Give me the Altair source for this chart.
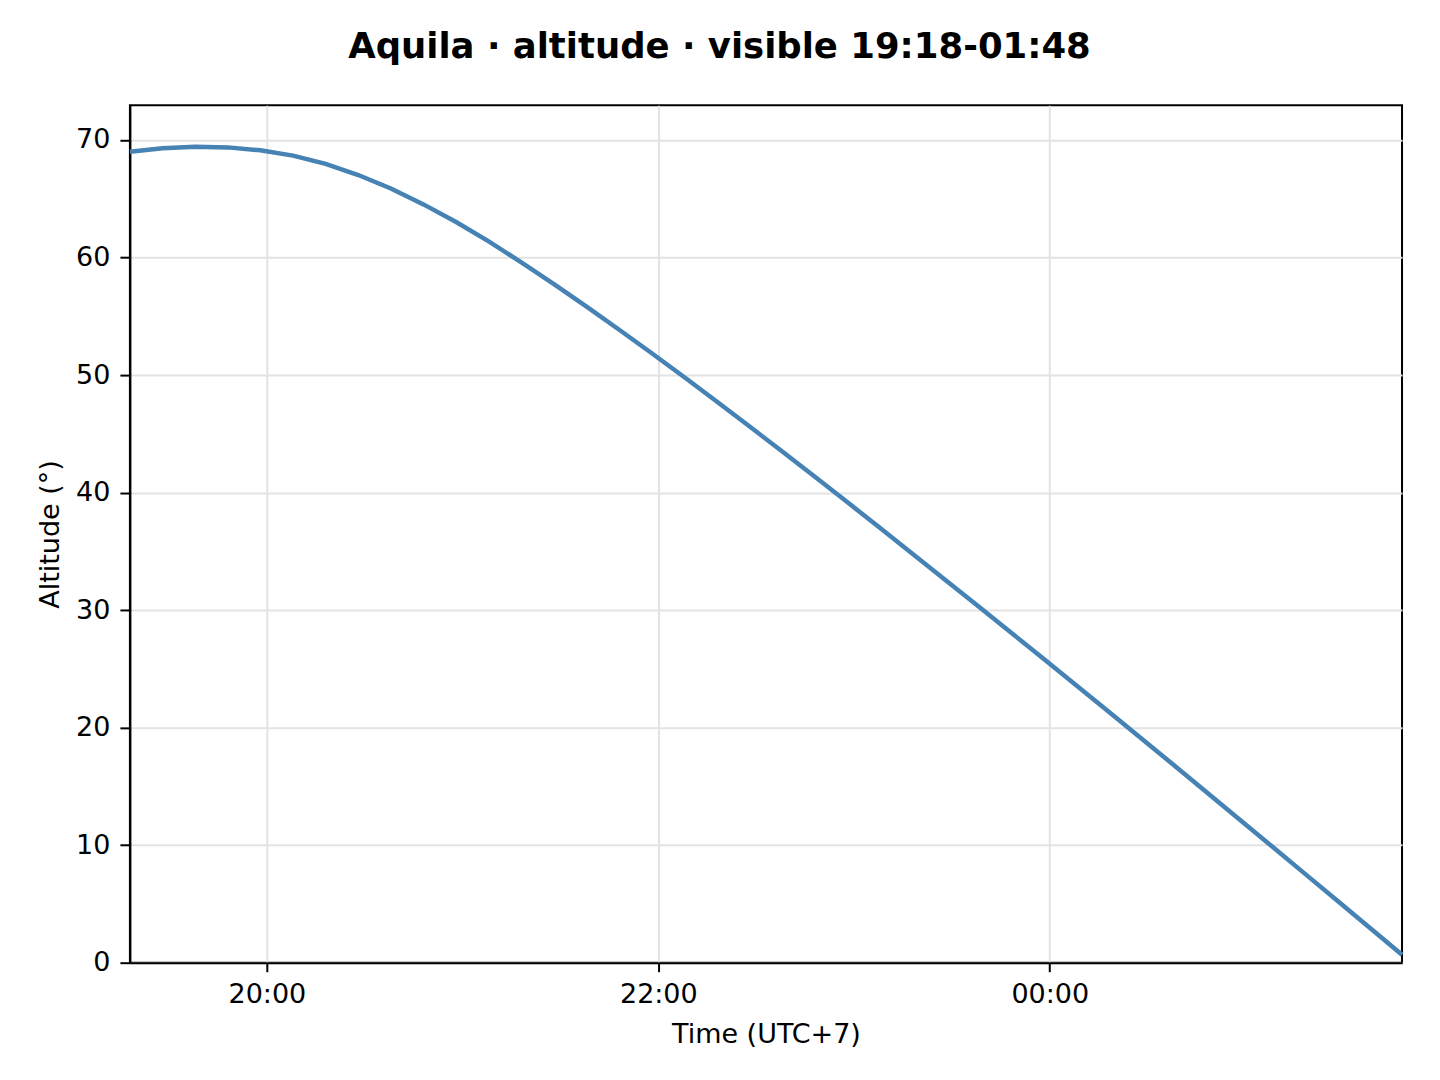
import altair as alt
import pandas as pd

# Sample times (local, UTC+7) every 10 minutes
times = [
    "2024-06-01T19:18", "2024-06-01T19:28", "2024-06-01T19:38", "2024-06-01T19:48",
    "2024-06-01T19:58", "2024-06-01T20:08", "2024-06-01T20:18", "2024-06-01T20:28",
    "2024-06-01T20:38", "2024-06-01T20:48", "2024-06-01T20:58", "2024-06-01T21:08",
    "2024-06-01T21:18", "2024-06-01T21:28", "2024-06-01T21:38", "2024-06-01T21:48",
    "2024-06-01T21:58", "2024-06-01T22:08", "2024-06-01T22:18", "2024-06-01T22:28",
    "2024-06-01T22:38", "2024-06-01T22:48", "2024-06-01T22:58", "2024-06-01T23:08",
    "2024-06-01T23:18", "2024-06-01T23:28", "2024-06-01T23:38", "2024-06-01T23:48",
    "2024-06-01T23:58", "2024-06-02T00:08", "2024-06-02T00:18", "2024-06-02T00:28",
    "2024-06-02T00:38", "2024-06-02T00:48", "2024-06-02T00:58", "2024-06-02T01:08",
    "2024-06-02T01:18", "2024-06-02T01:28", "2024-06-02T01:38", "2024-06-02T01:48",
]

altitude = [
    69.0, 69.3, 69.42, 69.37, 69.12, 68.67, 67.97, 67.02, 65.87, 64.52,
    63.02, 61.37, 59.59, 57.74, 55.82, 53.85, 51.85, 49.81, 47.73, 45.62,
    43.49, 41.34, 39.17, 36.98, 34.78, 32.57, 30.35, 28.12, 25.88, 23.63,
    21.37, 19.10, 16.82, 14.53, 12.23, 9.93, 7.62, 5.31, 2.99, 0.67,
]

x_tick_times = [
    alt.DateTime(year=2024, month=6, date=1, hours=20, minutes=0),
    alt.DateTime(year=2024, month=6, date=1, hours=22, minutes=0),
    alt.DateTime(year=2024, month=6, date=2, hours=0, minutes=0),
]
y_ticks = [0, 10, 20, 30, 40, 50, 60, 70]
title_text = "Aquila · altitude · visible 19:18-01:48"
x_title = "Time (UTC+7)"
y_title = "Altitude (°)"

df = pd.DataFrame({"time": times, "altitude": altitude})

FONT = "DejaVu Sans"

chart = (
    alt.Chart(df)
    .mark_line(color="#4682b4", strokeWidth=4.5)
    .encode(
        x=alt.X(
            "time:T",
            scale=alt.Scale(nice=False),
            axis=alt.Axis(
                title=x_title,
                format="%H:%M",
                values=x_tick_times,
                labelAngle=0,
                tickSize=9,
                labelPadding=10,
                titlePadding=14,
            ),
        ),
        y=alt.Y(
            "altitude:Q",
            scale=alt.Scale(domain=[0, 72.95], nice=False),
            axis=alt.Axis(
                title=y_title,
                values=y_ticks,
                tickSize=10,
                labelPadding=10,
                titlePadding=11,
            ),
        ),
    )
    .properties(
        width=1273,
        height=858,
        title=alt.TitleParams(
            text=title_text,
            font=FONT,
            fontSize=35.5,
            fontWeight="bold",
            color="black",
            anchor="middle",
            dx=-46.5,
            offset=40,
        ),
        autosize=alt.AutoSizeParams(type="none"),
        padding={"left": 122, "top": 97, "right": 30, "bottom": 100},
        background="white",
    )
    .configure_view(stroke="black", strokeWidth=2)
    .configure_axis(
        domain=True,
        domainColor="black",
        domainWidth=2,
        tickColor="black",
        tickWidth=2,
        labelColor="black",
        labelFont=FONT,
        labelFontSize=27,
        titleFont=FONT,
        titleFontSize=27,
        titleFontWeight="normal",
        titleColor="black",
        grid=True,
        gridColor="#e3e3e3",
        gridWidth=2,
    )
)

chart.save("out.html", embed_options={"renderer": "svg", "actions": False})
